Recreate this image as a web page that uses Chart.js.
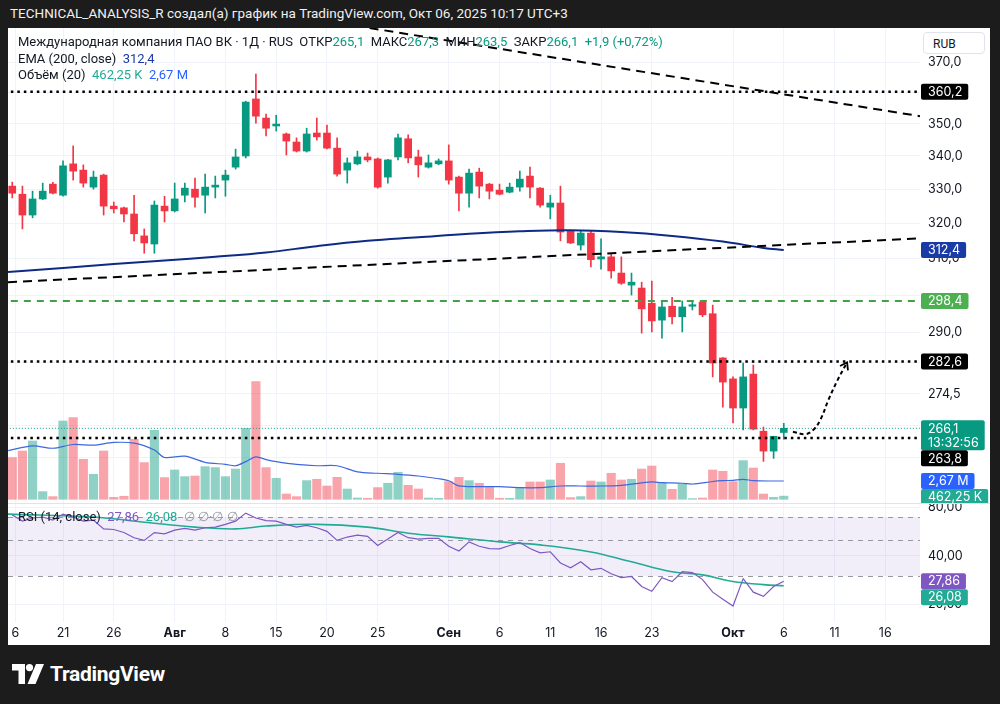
<!DOCTYPE html>
<html>
<head>
<meta charset="utf-8">
<script src="https://cdn.jsdelivr.net/npm/chart.js@4.4.1/dist/chart.umd.min.js"></script>
<style>
  body { margin:0; width:1000px; height:704px; background:#1c1c1c; overflow:hidden; position:relative;
         font-family: Roboto, "Noto Sans", sans-serif; }
  #hdr { position:absolute; left:10px; top:5px; color:#f0f0f0; font-size:13.5px; }
  #panel { position:absolute; left:8px; top:28px; width:982px; height:617px; background:#fff; overflow:hidden; }
  #panel canvas { position:absolute; left:0; }
  .lg { position:absolute; left:10px; font-size:13px; color:#131722; white-space:pre; line-height:16px; }
  .g { color:#089981; } .nv { color:#1a3aa6; } .tl { color:#22ab94; } .bl { color:#2962ff; }
  .pu { color:#7e57c2; } .gr { color:#9598a1; }
  #rub { position:absolute; left:915px; top:4px; width:62px; height:22px; border:1px solid #e0e3eb; border-radius:4px;
         background:#fff; font-size:12px; color:#131722; line-height:22px; padding-left:9px; box-sizing:border-box; }
  #sep { position:absolute; left:0; top:475px; width:982px; height:1px; background:#e0e3eb; }
  #logo { position:absolute; left:12px; top:662px; display:flex; align-items:center; gap:6px; color:#fff;
          font-size:21px; font-weight:bold; letter-spacing:-0.3px; }
</style>
</head>
<body>
<div id="hdr">TECHNICAL_ANALYSIS_R создал(а) график на TradingView.com, Окт 06, 2025 10:17 UTC+3</div>
<div id="panel">
  <canvas id="priceChart" width="982" height="475" style="top:0"></canvas>
  <canvas id="rsiChart" width="982" height="142" style="top:475px"></canvas>
  <div id="sep"></div>
  <div class="lg" style="top:6px">Международная компания ПАО ВК · 1Д · RUS  ОТКР<span class="g">265,1</span>  МАКС<span class="g">267,3</span>  МИН<span class="g">263,5</span>  ЗАКР<span class="g">266,1</span>  <span class="g">+1,9 (+0,72%)</span></div>
  <div class="lg" style="top:23px">EMA (200, close)  <span class="nv">312,4</span></div>
  <div class="lg" style="top:39px">Объём (20)  <span class="tl">462,25 K</span>  <span class="bl">2,67 M</span></div>
  <div class="lg" style="top:481px">RSI (14, close)  <span class="pu">27,86</span>  <span class="tl">26,08</span>  <span class="gr">∅ ∅·∅ ∅</span></div>
  <div id="rub">RUB</div>
</div>
<div id="logo">
  <svg width="32" height="20" viewBox="0 0 32 20"><path d="M0 0h13v20h-6.5v-13.5h-6.5z" fill="#fff"/><circle cx="17.5" cy="3.6" r="3.6" fill="#fff"/><path d="M24 0h8l-8.5 20h-8z" fill="#fff"/></svg>
  <span>TradingView</span>
</div>

<script>
// Свечи (дневные), индекс 0 = 16 июля, последний = 6 окт
const candleOpen  = [330.9,328.5,322.4,327.1,331.5,328.2,337.6,335.7,330.6,334.2,325.0,324.5,322.7,316.4,314.1,325.0,323.6,328.2,330.0,328.2,330.6,332.7,336.6,340.0,357.9,351.8,349.3,346.8,344.3,341.5,347.1,347.1,342.4,335.7,337.6,339.7,339.1,333.6,339.7,345.3,339.7,336.6,337.6,338.5,333.6,328.8,335.1,331.5,329.7,329.1,330.6,333.9,330.3,324.7,325.9,317.8,313.8,317.2,309.9,310.5,306.0,302.7,301.9,297.8,293.3,297.0,294.2,297.0,298.1,295.0,283.5,278.2,271.0,279.4,265.4,260.7,265.1];
const candleHigh  = [332.1,330.9,329.4,331.8,332.0,338.5,343.1,337.3,335.4,334.5,326.2,324.7,328.2,318.4,326.5,327.9,331.8,331.8,333.3,334.5,333.9,335.7,342.1,357.2,366.0,353.1,352.7,347.1,345.6,348.6,351.8,349.6,345.6,339.4,341.5,340.9,339.4,339.0,346.8,346.5,341.8,340.3,339.1,343.4,333.9,336.0,336.3,331.7,331.5,331.8,335.4,336.6,330.5,328.2,330.9,318.0,317.8,317.8,315.6,311.5,310.5,306.0,303.5,303.8,298.1,299.4,298.4,298.1,298.6,297.3,283.6,278.7,282.2,281.7,266.4,264.2,267.3];
const candleLow   = [327.4,318.4,321.6,326.9,328.6,327.9,332.7,330.6,330.0,322.4,323.0,320.4,315.0,311.5,311.5,320.4,323.3,326.2,324.7,323.0,327.4,327.9,336.0,339.4,350.2,346.2,347.7,340.3,341.2,341.2,344.9,342.2,333.9,331.8,337.3,338.2,330.3,331.8,338.8,337.9,333.6,336.3,337.3,331.5,323.6,324.7,327.4,327.1,328.3,328.9,329.4,327.4,324.7,321.3,315.0,314.2,312.4,307.7,307.1,304.6,302.9,300.0,289.9,290.2,288.6,292.3,290.2,296.0,294.2,278.7,271.2,267.4,265.7,265.7,258.3,259.0,263.5];
const candleClose = [328.8,322.4,327.1,329.4,328.8,337.0,335.4,331.8,333.6,325.0,324.2,322.7,317.0,314.4,325.3,323.6,327.1,330.3,327.6,330.6,331.2,334.2,339.7,356.9,352.4,348.6,349.9,344.6,341.5,346.8,345.9,342.4,334.5,337.9,339.7,338.8,330.6,338.8,345.6,339.4,337.3,337.9,338.5,332.7,328.8,334.8,330.9,329.4,328.5,330.6,333.0,330.6,325.3,325.9,317.5,314.4,317.2,309.7,310.5,306.6,303.2,303.5,296.3,293.1,296.8,294.2,296.8,297.3,294.7,282.2,277.4,271.0,278.7,265.9,260.7,264.2,266.1];

// Объём, млн
const volumeM = [6.09,7.05,8.51,1.12,0.39,11.43,11.93,5.84,3.65,7.05,0.29,0.44,8.76,5.36,10.07,3.17,4.28,3.31,3.40,4.77,4.63,3.31,4.42,10.36,17.18,4.63,3.07,0.77,0.39,2.73,2.92,1.94,3.21,1.50,0.19,0.15,1.71,2.34,3.94,2.04,1.50,0.19,0.15,2.58,3.21,2.73,2.34,1.85,0.15,0.15,1.71,2.53,2.53,2.82,5.26,0.25,0.39,2.67,2.53,3.80,2.82,2.92,4.42,4.86,2.48,1.46,2.19,0.10,0.19,4.28,4.09,2.58,5.65,4.57,0.77,0.29,0.46225];
const volMaIdx = [-0.4,2,4,6,8,10,12,14,15,17,19,21,22,23,24,25,26,28,30,32,34,36,38,40,42,43,44,46,48,50,52,54,56,58,60,62,63,64,66,67,69,70,71,72,73,75,76];
const volMaVal = [7.1,7.8,7.45,8.0,7.9,8.3,8.2,7.2,6.1,6.3,5.4,5.1,4.9,5.5,6.2,5.8,5.5,5.1,4.9,4.9,4.0,3.8,3.65,3.4,3.0,2.7,1.95,1.84,1.84,1.7,1.7,1.94,1.94,1.94,2.04,2.4,2.53,2.43,2.34,2.23,2.6,2.72,2.77,2.92,2.72,2.67,2.67];

// EMA 200
const emaIdx = [-0.42,5,10,15,20,25,30,35,40,45,50,55,60,65,70,74,76];
const emaVal = [306.3,307.4,308.5,309.5,310.5,311.7,313.5,315.0,316.0,317.0,317.7,318.0,317.5,316.4,314.8,313.0,312.4];

// RSI 14 и его средняя
const rsiVal = [72,66,69,70,67,73,70,66,67,59,58.5,56,52,50,56,55,58,59.5,58,60,60.5,63,66,74,69,66.5,66,63,60.5,62,60,57,50,52.5,54,53,46.5,51,56,52,51,51.5,51.5,46,43,49,46,44.5,44.3,46.5,48.5,44.5,41.8,42.5,36.2,33.8,36.8,32.8,33.5,31,29.3,29.8,25.8,24.1,29.3,27.7,31.9,31.5,28.5,23.8,21.5,19.5,28.9,23.8,22.4,25.8,27.86];
const rsiMaIdx = [-0.42,8,13,18,22,25,30,35,39,43,48,52,57,61,65,68,71,74,76];
const rsiMaVal = [73,70,65,60.5,59,61.5,63,60.5,55.5,52.6,49,46.9,42.4,36.8,31.9,30.5,27.7,26.5,26.08];
const rsiBands = [70, 50, 30];

// Подписи осей
const dateTickIdx = [0.3,5,10,16,21,26,31,36,43,48,53,58,63,71,76,81,86];
const dateTickLabels = ['6','21','26','Авг','8','15','20','25','Сен','6','11','16','23','Окт','6','11','16'];
const priceTicks = [370,360,350,340,330,320,310,300,290,282.3,274.5,266.8,259.3];
const priceTickShown = [true,false,true,true,true,true,true,false,true,false,true,false,false];
const rsiTicks = [80,40,20];

// Уровни и линии разметки
const dottedLevels = [360.2, 282.6, 263.8];
const greenLevel = 298.4;
const lastPrice = 266.1;
const trendDownIdx = [35.2, 89.42], trendDownVal = [381.5, 352.4];
const trendUpIdx = [-0.42, 89.42], trendUpVal = [303.5, 315.7];
const arrowIdx = [76.9, 78.1, 78.9, 79.6, 80.4, 81.3, 82.1];
const arrowVal = [265.3, 264.7, 265.7, 268.1, 273.0, 277.9, 281.7];

const UP = '#089981', DOWN = '#f23645';
const xMin = -0.42, xMax = 89.42;
Chart.defaults.font.family = "Inter, 'Noto Sans', sans-serif";
Chart.defaults.color = '#131722';

const idx = candleOpen.map((_, i) => i);
const isUp = i => candleClose[i] >= candleOpen[i];
const candleColors = idx.map(i => isUp(i) ? UP : DOWN);
const pts = (xs, ys) => xs.map((x, k) => ({ x, y: ys[k] }));
const hline = (v) => [{ x: xMin - 1, y: v }, { x: xMax + 1, y: v }];
const fmt = (v, d) => v.toFixed(d).replace('.', ',');

// Плашки справа на шкале
function drawTags(chart, tags) {
  const ctx = chart.ctx, left = chart.chartArea.right + 1;
  ctx.save();
  ctx.font = '12.5px Inter, sans-serif';
  const items = tags.map(t => {
    const y = chart.scales[t.axis].getPixelForValue(t.value);
    return { ...t, top: y - 8, h: 16 + (t.text.length - 1) * 14 };
  }).sort((a, b) => a.top - b.top);
  let prev = -1e9;
  items.forEach(it => {
    if (it.top < prev) it.top = prev;
    const w = Math.max(...it.text.map(s => ctx.measureText(s).width)) + 13;
    ctx.fillStyle = it.bg;
    ctx.beginPath();
    ctx.roundRect(left, it.top, w, it.h, 2);
    ctx.fill();
    ctx.fillStyle = '#fff';
    ctx.textBaseline = 'middle';
    it.text.forEach((s, k) => ctx.fillText(s, left + 7, it.top + 8.5 + k * 14));
    prev = it.top + it.h;
  });
  ctx.restore();
}

const priceOverlay = {
  id: 'priceOverlay',
  afterDatasetsDraw(chart) {
    // наконечник стрелки
    const meta = chart.getDatasetMeta(chart.data.datasets.findIndex(d => d.label === 'arrow'));
    const n = meta.data.length;
    const p1 = meta.data[n - 2], p2 = meta.data[n - 1];
    const ang = Math.atan2(p2.y - p1.y, p2.x - p1.x);
    const ctx = chart.ctx;
    const tx = p2.x + 3 * Math.cos(ang), ty = p2.y + 3 * Math.sin(ang);
    ctx.save();
    ctx.strokeStyle = '#000'; ctx.lineWidth = 1.8;
    ctx.beginPath();
    ctx.moveTo(tx - 8 * Math.cos(ang - 0.6), ty - 8 * Math.sin(ang - 0.6));
    ctx.lineTo(tx, ty);
    ctx.lineTo(tx - 8 * Math.cos(ang + 0.6), ty - 8 * Math.sin(ang + 0.6));
    ctx.stroke();
    ctx.restore();
  },
  afterDraw(chart) {
    drawTags(chart, [
      { axis: 'y', value: dottedLevels[0], text: [fmt(dottedLevels[0], 1)], bg: '#000' },
      { axis: 'y', value: emaVal[emaVal.length - 1], text: [fmt(emaVal[emaVal.length - 1], 1)], bg: '#1a3aa6' },
      { axis: 'y', value: greenLevel, text: [fmt(greenLevel, 1)], bg: '#4caf50' },
      { axis: 'y', value: dottedLevels[1], text: [fmt(dottedLevels[1], 1)], bg: '#000' },
      { axis: 'y', value: lastPrice, text: [fmt(lastPrice, 1), '13:32:56'], bg: '#089981' },
      { axis: 'y', value: dottedLevels[2], text: [fmt(dottedLevels[2], 1)], bg: '#000' },
      { axis: 'vol', value: volMaVal[volMaVal.length - 1], text: [fmt(volMaVal[volMaVal.length - 1], 2) + ' M'], bg: '#2962ff' },
      { axis: 'vol', value: volumeM[volumeM.length - 1], text: [fmt(volumeM[volumeM.length - 1] * 1000, 2) + ' K'], bg: '#22ab94' }
    ]);
  }
};

const lineDs = (label, data, color, width, dash, order, extra) => Object.assign({
  type: 'line', label, data, yAxisID: 'y', borderColor: color, borderWidth: width,
  borderDash: dash, borderCapStyle: 'butt', pointRadius: 0, tension: 0, order
}, extra || {});

new Chart(document.getElementById('priceChart'), {
  type: 'bar',
  data: {
    datasets: [
      { label: 'vol', data: idx.map(i => ({ x: i, y: volumeM[i] })), yAxisID: 'vol', grouped: false,
        backgroundColor: idx.map(i => isUp(i) ? 'rgba(8,153,129,0.45)' : 'rgba(242,54,69,0.45)'),
        barThickness: 8.5, order: 20 },
      { type: 'line', label: 'volMA', data: pts(volMaIdx, volMaVal), yAxisID: 'vol', borderColor: '#3d68e0',
        borderWidth: 1.2, pointRadius: 0, tension: 0.3, order: 19 },
      { label: 'wick', data: idx.map(i => ({ x: i, y: [candleLow[i], candleHigh[i]] })), yAxisID: 'y',
        grouped: false, backgroundColor: candleColors, barThickness: 1, order: 18 },
      { label: 'body', data: idx.map(i => ({ x: i, y: [Math.min(candleOpen[i], candleClose[i]), Math.max(candleOpen[i], candleClose[i])] })),
        yAxisID: 'y', grouped: false, backgroundColor: candleColors, barThickness: 7, minBarLength: 1.5, order: 17 },
      lineDs('ema', pts(emaIdx, emaVal), '#0f2a85', 2, [], 10, { tension: 0.4 }),
      lineDs('last', hline(lastPrice), '#089981', 1, [1, 2], 9),
      lineDs('green', hline(greenLevel), '#43a047', 2, [7, 6], 8),
      ...dottedLevels.map((v, k) => lineDs('dot' + k, hline(v), '#000', 2.5, [2.5, 4], 7)),
      lineDs('trendDown', pts(trendDownIdx, trendDownVal), '#000', 2, [9, 6], 6),
      lineDs('trendUp', pts(trendUpIdx, trendUpVal), '#000', 2, [9, 6], 6),
      lineDs('arrow', pts(arrowIdx, arrowVal), '#000', 2, [4, 3], 5, { tension: 0.4 })
    ]
  },
  options: {
    responsive: false, animation: false, devicePixelRatio: 1,
    layout: { padding: 0 },
    plugins: { legend: { display: false }, tooltip: { enabled: false } },
    scales: {
      x: {
        type: 'linear', min: xMin, max: xMax, offset: false,
        grid: { color: '#f0f3fa', drawTicks: false, offset: false }, border: { display: false },
        ticks: { display: false },
        afterBuildTicks: s => { s.ticks = dateTickIdx.map(v => ({ value: v })); },
        afterFit: s => { s.height = 0; s.paddingLeft = 0; s.paddingRight = 0; }
      },
      y: {
        type: 'logarithmic', position: 'right', min: 248.8, max: 381.5, bounds: 'data',
        grid: { color: '#f0f3fa', drawTicks: false }, border: { display: false },
        ticks: { padding: 8, color: '#131722', font: { size: 12.5 },
                 callback: (v, i) => priceTickShown[i] ? fmt(v, 1) : '' },
        afterBuildTicks: s => { s.ticks = priceTicks.map(v => ({ value: v })); },
        afterFit: s => { s.width = 70; s.paddingTop = 0; s.paddingBottom = 0; }
      },
      vol: { type: 'linear', axis: 'y', position: 'left', display: false, min: -0.54, max: 68.8 }
    }
  },
  plugins: [priceOverlay]
});

const rsiOverlay = {
  id: 'rsiOverlay',
  beforeDatasetsDraw(chart) {
    const { ctx, chartArea: a, scales: { y } } = chart;
    ctx.save();
    ctx.fillStyle = 'rgba(126,87,194,0.1)';
    ctx.fillRect(a.left, y.getPixelForValue(rsiBands[0]), a.width, y.getPixelForValue(rsiBands[2]) - y.getPixelForValue(rsiBands[0]));
    ctx.strokeStyle = '#9598a1'; ctx.lineWidth = 1; ctx.setLineDash([5, 5]);
    rsiBands.forEach(v => {
      const py = Math.round(y.getPixelForValue(v)) + 0.5;
      ctx.beginPath(); ctx.moveTo(a.left, py); ctx.lineTo(a.right, py); ctx.stroke();
    });
    ctx.restore();
  },
  afterDraw(chart) {
    drawTags(chart, [
      { axis: 'y', value: rsiVal[rsiVal.length - 1], text: [fmt(rsiVal[rsiVal.length - 1], 2)], bg: '#7e57c2' },
      { axis: 'y', value: rsiMaVal[rsiMaVal.length - 1], text: [fmt(rsiMaVal[rsiMaVal.length - 1], 2)], bg: '#22ab94' }
    ]);
  }
};

new Chart(document.getElementById('rsiChart'), {
  type: 'line',
  data: {
    datasets: [
      { data: pts(idx, rsiVal), borderColor: '#7e57c2', borderWidth: 1.2, pointRadius: 0, tension: 0 },
      { data: pts(rsiMaIdx, rsiMaVal), borderColor: '#22ab94', borderWidth: 1.6, pointRadius: 0, tension: 0.4 }
    ]
  },
  options: {
    responsive: false, animation: false, devicePixelRatio: 1,
    layout: { padding: 0 },
    plugins: { legend: { display: false }, tooltip: { enabled: false } },
    scales: {
      x: {
        type: 'linear', min: xMin, max: xMax,
        grid: { color: '#f0f3fa', drawTicks: false }, border: { display: false },
        ticks: {
          autoSkip: false, maxRotation: 0, padding: 4, color: '#131722',
          callback: (v, i) => dateTickLabels[i],
          font: c => ({ size: 12.5, weight: /[А-Яа-я]/.test(dateTickLabels[c.index] || '') ? 'bold' : 'normal' })
        },
        afterBuildTicks: s => { s.ticks = dateTickIdx.map(v => ({ value: v })); },
        afterFit: s => { s.height = 23; s.paddingLeft = 0; s.paddingRight = 0; }
      },
      y: {
        type: 'logarithmic', position: 'right', min: 15.5, max: 85.6, bounds: 'data',
        grid: { color: '#f0f3fa', drawTicks: false }, border: { display: false },
        ticks: { padding: 8, color: '#131722', font: { size: 12.5 }, callback: v => fmt(v, 2) },
        afterBuildTicks: s => { s.ticks = rsiTicks.map(v => ({ value: v })); },
        afterFit: s => { s.width = 70; s.paddingTop = 0; s.paddingBottom = 0; }
      }
    }
  },
  plugins: [rsiOverlay]
});
</script>
</body>
</html>
